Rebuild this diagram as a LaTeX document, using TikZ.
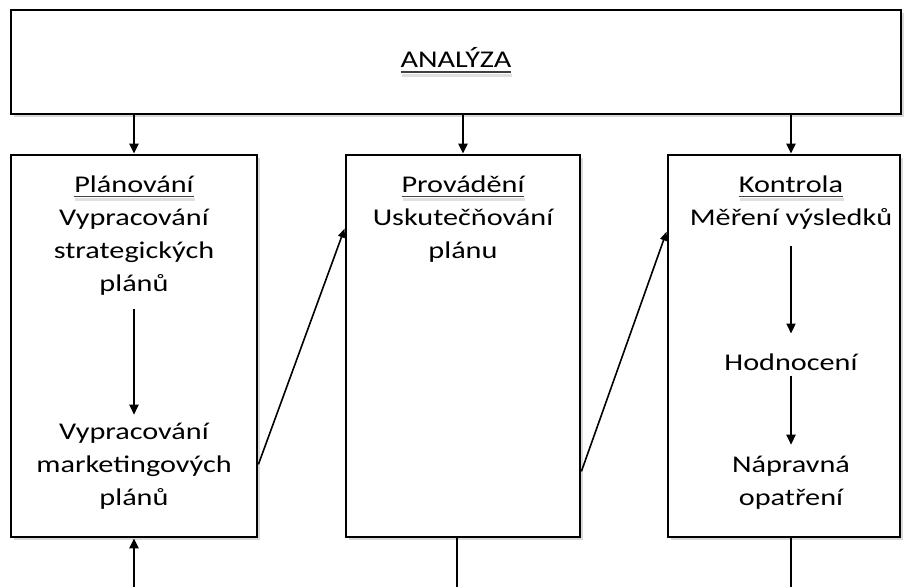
\documentclass[tikz,border=0pt]{standalone}
\usepackage{fontspec}
\setmainfont{Carlito}[FakeStretch=1.26]
\usetikzlibrary{arrows.meta,positioning,calc,shadows}

\newsavebox\headbox
\newcommand{\heading}[1]{\sbox\headbox{#1}%
  \leavevmode\rlap{\color{black!12}\kern1pt\rule[-9pt]{\wd\headbox}{3pt}}%
  \rlap{\color{black!75}\rule[-5pt]{\wd\headbox}{1.6pt}}%
  \textcolor{black!75}{\usebox\headbox}}

\begin{document}
\begin{tikzpicture}[x=1pt,y=1pt,
  box/.style={rectangle,draw=black,line width=2.8pt,fill=white,
              drop shadow={shadow xshift=3pt,shadow yshift=-3pt,opacity=.3}},
  bigbox/.style={box,minimum width=890pt,minimum height=104pt},
  colbox/.style={box,minimum height=382pt},
  txt/.style={align=center,inner sep=0pt,font=\fontsize{24}{33}\selectfont},
  arrow/.style={-{Triangle[length=10pt,width=9pt]},line width=2.2pt},
  slant/.style={-{Triangle[length=9pt,width=7pt]},line width=1.6pt},
  line/.style={line width=2.2pt}
]
\useasboundingbox (0,0) rectangle (904,587);
\coordinate (bottom) at (0,0);

% ===== ANALYZA =====
\node[bigbox,txt] (analyza) at (456,525) {\heading{ANALÝZA}};

% ===== COLUMNS =====
\node[colbox,minimum width=246pt] (plan) at (134,241) {};
\node[colbox,minimum width=234pt] (prov) at (463,241) {};
\node[colbox,minimum width=232pt] (kontrola) at (784,241) {};

% ===== PLANOVANI =====
\node[txt,below=22pt of plan.north] (plantop) {\heading{Plánování}\\Vypracování\\strategických\\plánů};
\node[txt,above=29pt of plan.south] (planbot) {Vypracování\\marketingových\\plánů};
\draw[arrow,shorten <=13pt,shorten >=8pt] (plantop) -- (planbot);

% ===== PROVADENI =====
\node[txt,below=22pt of prov.north] (provtxt) {\heading{Provádění}\\Uskutečňování\\plánu};

% ===== KONTROLA =====
\node[txt,below=22pt of kontrola.north,xshift=7pt] (kontop) {\heading{Kontrola}\\Měření výsledků};
\node[txt,above=29pt of kontrola.south,xshift=7pt] (napr) {Nápravná\\opatření};
\node[txt,above=85pt of napr] (hodn) {Hodnocení};
\draw[arrow,shorten <=16pt,shorten >=20pt] (kontop) -- (hodn);
\draw[arrow,shorten <=5pt,shorten >=11pt] (hodn) -- (napr);

% from analysis down into each column
\foreach \t in {plantop,provtxt,kontop} {
  \draw[arrow] (analyza.south -| \t) -- (\t |- plan.north);
}

% slanted arrows between the columns
\draw[slant] ($(plan.south east)+(0,74)$) -- ($(prov.north west)+(0,-75)$);
\draw[slant] ($(prov.south east)+(0,67)$) -- ($(kontrola.north west)+(0,-78)$);

% loop lines running off the bottom
\draw[arrow] (plantop |- bottom) -- (plantop |- plan.south);
\draw[line] ([xshift=-6pt]prov.south) -- ([xshift=-6pt]prov.south |- bottom);
\draw[line] (kontop |- kontrola.south) -- (kontop |- bottom);

\end{tikzpicture}
\end{document}
